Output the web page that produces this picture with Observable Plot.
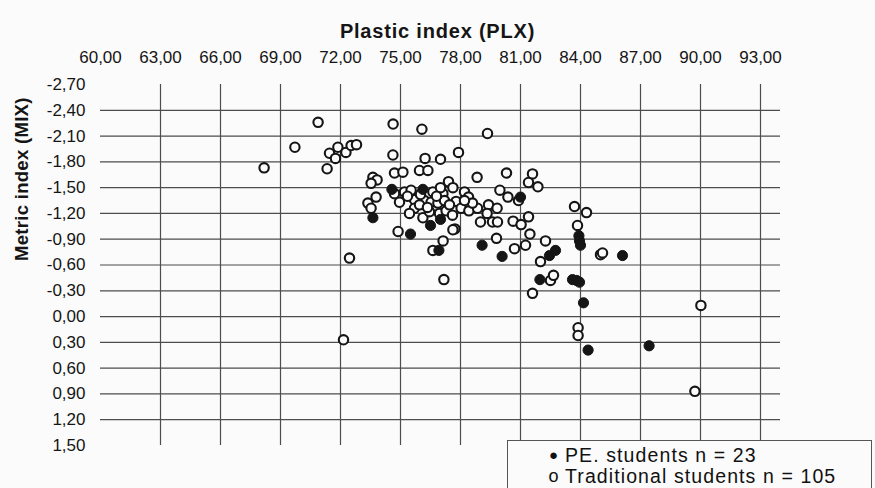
<!DOCTYPE html>
<html>
<head>
<meta charset="utf-8">
<script src="https://cdn.jsdelivr.net/npm/d3@7"></script>
<script src="https://cdn.jsdelivr.net/npm/@observablehq/plot@0.6"></script>
<style>
  body { margin: 0; background: #fbfbfb; font-family: "Liberation Sans", Arial, sans-serif; }
  #wrap { position: relative; width: 875px; height: 488px; overflow: hidden; background: #fbfbfb; }
  #legend { position: absolute; left: 507px; top: 440px; width: 363px; height: 70px; border: 1px solid #555; background: #fbfbfb; color: #111; font-size: 19.5px; letter-spacing: 1.1px; }
  #legend .row { position: absolute; left: 0; white-space: nowrap; line-height: 20px; height: 20px; }
  #legend .sym { position: absolute; width: 14px; text-align: center; }
  #legend .lab { position: absolute; left: 57px; }
</style>
</head>
<body>
<div id="wrap"><div id="chart"></div><div id="legend"></div></div>
<script>
// ---- data ----
const xTitle = "Plastic index (PLX)";
const yTitle = "Metric index (MIX)";
const seriesNames = ["PE. students n = 23", "Traditional students n = 105"];

const xTicks = [60, 63, 66, 69, 72, 75, 78, 81, 84, 87, 90, 93];
const yTicks = [-2.7, -2.4, -2.1, -1.8, -1.5, -1.2, -0.9, -0.6, -0.3, 0, 0.3, 0.6, 0.9, 1.2, 1.5];
const xGrid = [63, 66, 69, 72, 75, 78, 81, 84, 87, 90, 93];
const yGrid = [-2.4, -2.1, -1.8, -1.5, -1.2, -0.9, -0.6, -0.3, 0, 0.3, 0.6, 0.9, 1.2];

// PE students (filled)
const peX = [74.57, 76.12, 73.62, 76.50, 77.00, 75.50, 76.92, 79.08, 80.08, 81.00, 82.45, 82.75,
             83.92, 83.95, 84.00, 81.97, 83.60, 83.80, 83.95, 84.15, 86.10, 84.38, 87.43];
const peY = [-1.48, -1.48, -1.15, -1.06, -1.13, -0.96, -0.77, -0.83, -0.70, -1.39, -0.71, -0.77,
             -0.94, -0.88, -0.83, -0.43, -0.43, -0.42, -0.40, -0.16, -0.71, 0.39, 0.34];

// Traditional students (open)
const trX = [
  68.18, 69.72, 70.88, 71.33, 71.45, 71.75, 71.87, 72.27, 72.53, 72.80, 72.45, 72.15,
  74.63, 76.07, 79.35, 74.62, 76.23, 77.00, 77.90, 74.70, 75.12, 75.95, 76.37, 78.83, 80.30, 81.60, 81.40, 81.87, 73.62, 73.83, 73.53,
  74.70, 75.20, 75.53, 76.62, 77.12, 77.40, 77.62, 78.20, 75.70, 76.20, 76.53, 76.87, 77.20, 77.78, 78.03, 73.37, 73.78, 73.53, 75.70, 76.12, 76.45, 76.95, 77.28,
  78.40, 79.97, 80.37, 80.90, 83.70, 84.30, 78.42, 78.85, 79.40, 79.83, 79.33, 79.00, 79.60, 79.85, 80.63, 81.03, 81.40, 83.85, 77.72,
  74.88, 77.62, 77.13, 76.62, 77.17, 79.80, 80.70, 81.25, 81.47, 82.25, 82.00, 82.50, 82.65, 81.60, 85.00, 85.10, 83.88, 83.88, 90.02, 89.72,
  75.35, 76.00, 75.95, 76.35, 77.45, 77.00, 75.45, 77.60, 78.60, 76.80, 74.95, 78.20
];
const trY = [
  -1.73, -1.97, -2.26, -1.72, -1.90, -1.84, -1.97, -1.91, -1.99, -2.00, -0.68, 0.27,
  -2.24, -2.18, -2.13, -1.88, -1.84, -1.83, -1.91, -1.67, -1.68, -1.70, -1.70, -1.62, -1.67, -1.66, -1.56, -1.51, -1.62, -1.59, -1.55,
  -1.43, -1.45, -1.47, -1.45, -1.43, -1.57, -1.50, -1.45, -1.36, -1.35, -1.33, -1.32, -1.35, -1.34, -1.26, -1.32, -1.39, -1.26, -1.26, -1.15, -1.22, -1.20, -1.23,
  -1.39, -1.47, -1.39, -1.35, -1.28, -1.21, -1.23, -1.26, -1.30, -1.26, -1.20, -1.10, -1.10, -1.10, -1.11, -1.07, -1.16, -1.06, -1.02,
  -0.99, -1.01, -0.88, -0.77, -0.43, -0.91, -0.79, -0.83, -0.96, -0.88, -0.64, -0.42, -0.48, -0.27, -0.72, -0.74, 0.13, 0.22, -0.13, 0.87,
  -1.40, -1.42, -1.30, -1.27, -1.30, -1.50, -1.20, -1.18, -1.32, -1.40, -1.33, -1.35
];

// ---- build ----
const pe = peX.map((x, i) => ({x, y: peY[i]}));
const trad = trX.map((x, i) => ({x, y: trY[i]}));
const fmt = d => d.toFixed(2).replace(".", ",");
const ink = "#151515";
const gridCol = "#4d4d4d";

const chart = Plot.plot({
  width: 875,
  height: 488,
  marginLeft: 100,
  marginRight: 95,
  marginTop: 84,
  marginBottom: 43,
  style: {background: "transparent", fontFamily: "'Liberation Sans', Arial, sans-serif", color: ink, overflow: "visible"},
  x: {domain: [60, 94], axis: null},
  y: {domain: [-2.7, 1.5], reverse: true, axis: null},
  marks: [
    Plot.ruleY(yGrid, {x1: 60, x2: 94, stroke: gridCol, strokeWidth: 1.2}),
    Plot.ruleX(xGrid, {y1: -2.7, y2: 1.5, stroke: gridCol, strokeWidth: 1.2}),
    Plot.axisX(xTicks, {anchor: "top", tickSize: 0, tickPadding: 22, tickFormat: fmt, label: null, fontSize: 17, fill: ink}),
    Plot.axisY(yTicks, {anchor: "left", tickSize: 0, tickPadding: 15, tickFormat: fmt, label: null, fontSize: 17, fill: ink}),
    Plot.dot(trad, {x: "x", y: "y", r: 4.7, fill: "#fbfbfb", stroke: ink, strokeWidth: 2.1}),
    Plot.dot(pe, {x: "x", y: "y", r: 5.1, fill: ink, stroke: ink, strokeWidth: 1}),
    Plot.text([xTitle], {frameAnchor: "top", dx: -3, dy: -61, fontSize: 20, fontWeight: "bold", fill: ink}),
    Plot.text([yTitle], {frameAnchor: "left", dx: -78, dy: -4, rotate: -90, fontSize: 18.5, fontWeight: "bold", fill: ink})
  ]
});
// slight letter spacing on the two titles, as in the scanned original
const texts = chart.querySelectorAll("text");
texts.forEach(t => {
  if (t.textContent === xTitle) t.style.letterSpacing = "0.8px";
  if (t.textContent === yTitle) t.style.letterSpacing = "0.3px";
});
document.getElementById("chart").appendChild(chart);

// legend (inside the chart area, bottom right, as in the reference)
const legend = document.getElementById("legend");
const syms = ["●", "o"];
seriesNames.forEach((name, i) => {
  const row = document.createElement("div");
  row.className = "row";
  row.style.top = (4 + i * 21) + "px";
  const s = document.createElement("span");
  s.className = "sym";
  s.style.left = "39px";
  s.style.fontSize = i === 0 ? "15px" : "18px";
  s.textContent = syms[i];
  const l = document.createElement("span");
  l.className = "lab";
  l.textContent = name;
  row.appendChild(s);
  row.appendChild(l);
  legend.appendChild(row);
});
</script>
</body>
</html>
